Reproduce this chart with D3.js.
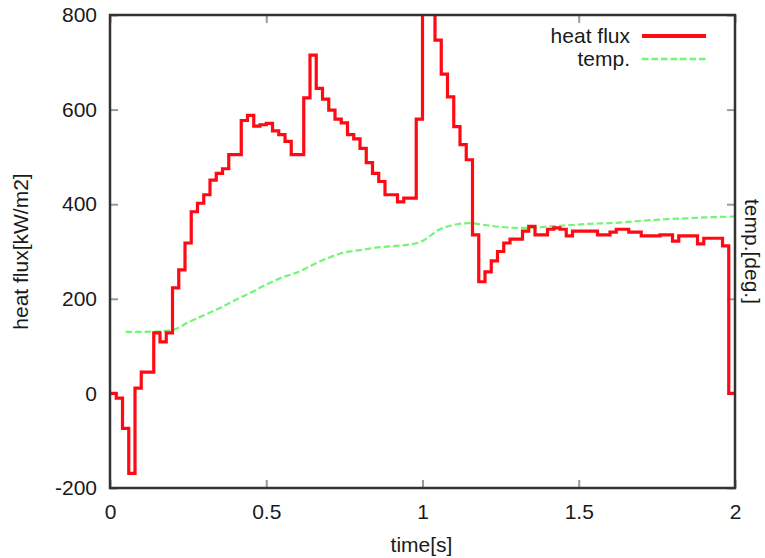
<!DOCTYPE html>
<html>
<head>
<meta charset="utf-8">
<script src="https://cdn.jsdelivr.net/npm/d3@7"></script>
<style>
  html, body { margin: 0; padding: 0; background: #fff; }
  svg { display: block; font-family: "Liberation Sans", Arial, sans-serif; }
  .tick text { font-size: 21px; fill: #1a1a1a; }
  .label { font-size: 21px; fill: #1a1a1a; }
</style>
</head>
<body>
<svg id="chart" width="765" height="558"></svg>
<script>
// Heat flux samples [kW/m2], one every 0.02 s from 0 to 2 s
const fluxValues = [
  0, -10, -74, -169, 11, 45, 45, 128, 109, 128,
  223, 261, 318, 384, 402, 420, 451, 465, 475, 505,
  505, 577, 588, 565, 568, 571, 555, 547, 533, 505,
  505, 625, 715, 645, 622, 599, 580, 572, 547, 538,
  518, 488, 465, 448, 420, 420, 405, 413, 413, 580,
  900, 860, 747, 675, 627, 564, 526, 494, 335, 236,
  257, 280, 300, 318, 326, 326, 343, 353, 335, 335,
  347, 350, 347, 333, 343, 343, 343, 343, 335, 335,
  341, 347, 347, 341, 341, 333, 333, 333, 335, 335,
  322, 333, 333, 333, 316, 328, 328, 328, 312, 0,
  0
];
const fluxTimes = fluxValues.map((_, i) => +(i * 0.02).toFixed(2));

// Temperature trace (plotted against the right-hand axis)
const tempTimes = [
  0.05, 0.10, 0.15, 0.20, 0.25, 0.30, 0.35, 0.40, 0.45, 0.50,
  0.55, 0.60, 0.65, 0.70, 0.75, 0.80, 0.85, 0.90, 0.95, 1.00,
  1.05, 1.10, 1.15, 1.20, 1.25, 1.30, 1.35, 1.40, 1.45, 1.50,
  1.55, 1.60, 1.65, 1.70, 1.75, 1.80, 1.85, 1.90, 1.95, 2.00
];
const tempValues = [
  130, 130, 131, 134, 150, 165, 180, 197, 213, 230,
  245, 256, 272, 287, 298, 303, 308, 311, 314, 322,
  345, 356, 360, 356, 352, 350, 350, 353, 355, 357,
  359, 360, 362, 365, 367, 369, 370, 372, 373, 374
];

const xTicks = [0, 0.5, 1, 1.5, 2];
const xTickLabels = ["0", "0.5", "1", "1.5", "2"];
const yTicks = [-200, 0, 200, 400, 600, 800];
const yTickLabels = ["-200", "0", "200", "400", "600", "800"];

const seriesNames = ["heat flux", "temp."];
const seriesColors = ["#ff0a14", "#74f574"];

const plotLeft = 110, plotRight = 735, plotTop = 15, plotBottom = 488;

const svg = d3.select("#chart");

const x = d3.scaleLinear().domain([0, 2]).range([plotLeft, plotRight]);
const y = d3.scaleLinear().domain([-200, 800]).range([plotBottom, plotTop]);
const y2 = d3.scaleLinear().domain([-200, 800]).range([plotBottom, plotTop]);

// clip region = plot frame
svg.append("defs").append("clipPath").attr("id", "plotClip")
  .append("rect")
  .attr("x", plotLeft).attr("y", plotTop)
  .attr("width", plotRight - plotLeft).attr("height", plotBottom - plotTop);

// axes with inward ticks on all four sides
function styleAxis(g) {
  g.select(".domain").remove();
  g.selectAll(".tick line").attr("stroke", "#9a9a9a").attr("stroke-width", 2);
}

svg.append("g")
  .attr("transform", `translate(0,${plotBottom})`)
  .call(d3.axisBottom(x).tickValues(xTicks)
    .tickFormat((d, i) => xTickLabels[i])
    .tickSize(-8).tickSizeOuter(0).tickPadding(16))
  .call(styleAxis);

svg.append("g")
  .attr("transform", `translate(0,${plotTop})`)
  .call(d3.axisTop(x).tickValues(xTicks).tickFormat("")
    .tickSize(-8).tickSizeOuter(0))
  .call(styleAxis);

svg.append("g")
  .attr("transform", `translate(${plotLeft},0)`)
  .call(d3.axisLeft(y).tickValues(yTicks)
    .tickFormat((d, i) => yTickLabels[i])
    .tickSize(-8).tickSizeOuter(0).tickPadding(13))
  .call(styleAxis);

svg.append("g")
  .attr("transform", `translate(${plotRight},0)`)
  .call(d3.axisRight(y2).tickValues(yTicks).tickFormat("")
    .tickSize(-8).tickSizeOuter(0))
  .call(styleAxis);

svg.selectAll(".tick text").attr("fill", "#1a1a1a").attr("font-size", 21);

// data lines
const plot = svg.append("g").attr("clip-path", "url(#plotClip)");

const tempLine = d3.line()
  .x((d, i) => x(tempTimes[i]))
  .y(d => y2(d))
  .curve(d3.curveMonotoneX);

plot.append("path")
  .datum(tempValues)
  .attr("fill", "none")
  .attr("stroke", seriesColors[1])
  .attr("stroke-width", 2.2)
  .attr("stroke-dasharray", "6.5,3")
  .attr("d", tempLine);

const fluxLine = d3.line()
  .x((d, i) => x(fluxTimes[i]))
  .y(d => y(d))
  .curve(d3.curveStepAfter);

plot.append("path")
  .datum(fluxValues)
  .attr("fill", "none")
  .attr("stroke", seriesColors[0])
  .attr("stroke-width", 3.2)
  .attr("stroke-linejoin", "miter")
  .attr("d", fluxLine);

// frame
svg.append("rect")
  .attr("x", plotLeft).attr("y", plotTop)
  .attr("width", plotRight - plotLeft).attr("height", plotBottom - plotTop)
  .attr("fill", "none")
  .attr("stroke", "#333")
  .attr("stroke-width", 2.5);

// legend
const legend = svg.append("g");
const legendY = [36, 59];
seriesNames.forEach((name, i) => {
  legend.append("text")
    .attr("class", "label")
    .attr("x", 630).attr("y", legendY[i])
    .attr("dy", "0.35em")
    .attr("text-anchor", "end")
    .text(name);
  legend.append("line")
    .attr("x1", 642).attr("x2", 706)
    .attr("y1", legendY[i]).attr("y2", legendY[i])
    .attr("stroke", seriesColors[i])
    .attr("stroke-width", i === 0 ? 4 : 2.5)
    .attr("stroke-dasharray", i === 0 ? null : "6.5,3");
});

// axis titles
svg.append("text")
  .attr("class", "label")
  .attr("x", (plotLeft + plotRight) / 2 - 1).attr("y", 552)
  .attr("text-anchor", "middle")
  .text("time[s]");

svg.append("text")
  .attr("class", "label")
  .attr("transform", `translate(28,${(plotTop + plotBottom) / 2}) rotate(-90)`)
  .attr("text-anchor", "middle")
  .text("heat flux[kW/m2]");

svg.append("text")
  .attr("class", "label")
  .attr("transform", `translate(745,${(plotTop + plotBottom) / 2}) rotate(90)`)
  .attr("text-anchor", "middle")
  .text("temp.[deg.]");
</script>
</body>
</html>
